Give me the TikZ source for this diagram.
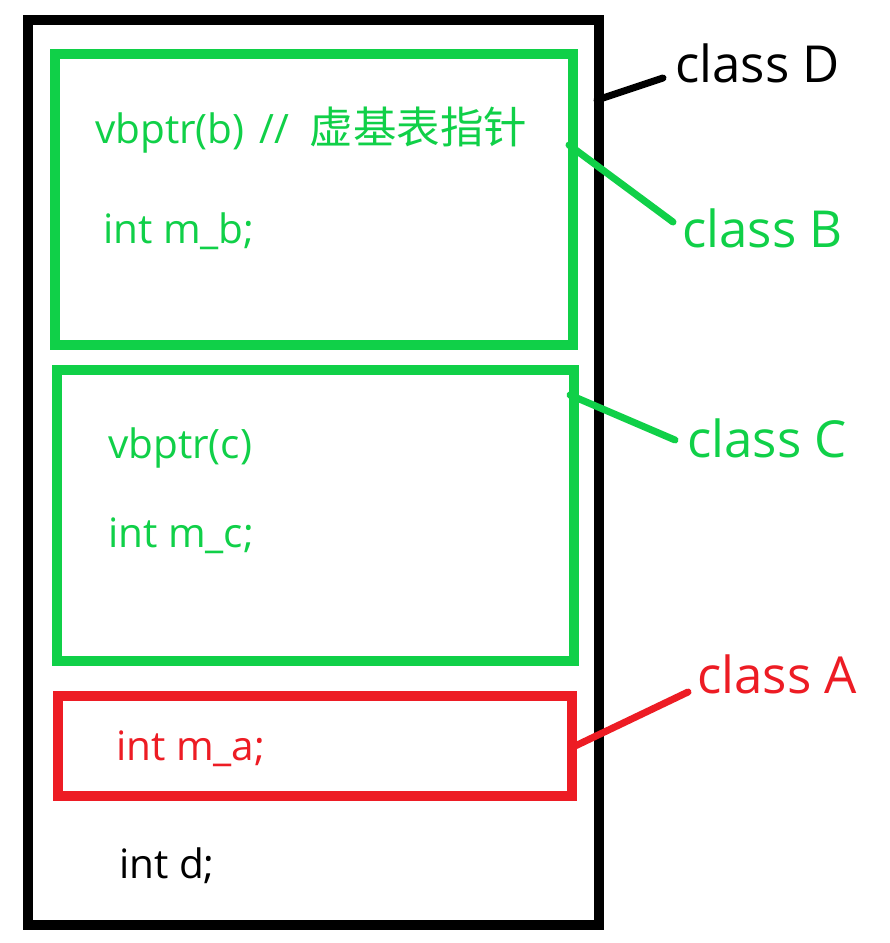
\documentclass[tikz,border=0pt]{standalone}
\usepackage{fontspec}
\setmainfont{Open Sans}
\newfontfamily\cjk{Noto Sans CJK SC}
\definecolor{mygreen}{RGB}{16,208,72}
\definecolor{myred}{RGB}{237,28,36}
\begin{document}
\begin{tikzpicture}[x=1pt,y=-1pt,
  box/.style={draw, line width=10pt, inner sep=0pt, outer sep=0pt, anchor=north west},
  conn/.style={line width=7pt, line cap=round},
  lab/.style={font=\fontsize{51}{56}\selectfont, anchor=base west, inner sep=0pt},
  code/.style={font=\fontsize{40.5}{44}\selectfont, anchor=base west, inner sep=0pt}]
\useasboundingbox (0,0) rectangle (890,943);
\fill[white] (0,0) rectangle (890,943);
% boxes
\node[box, minimum width=571pt, minimum height=905pt] (D) at (28,20) {};
\node[box, draw=mygreen, minimum width=517.5pt, minimum height=291pt] (B) at (55,54) {};
\node[box, draw=mygreen, minimum width=517pt, minimum height=291pt] (C) at (57,370) {};
\node[box, draw=myred, minimum width=514pt, minimum height=100pt] (A) at (58,696) {};
% texts
\node[code, text=mygreen] (tb1) at (95,143) {vbptr(b) \hspace{4pt}//\hspace{10pt} {\cjk\fontsize{43.5}{46}\selectfont 虚基表指针}};
\node[code, text=mygreen] (tb2) at (103,243) {int m\_b;};
\node[code, text=mygreen] (tc1) at (108,458) {vbptr(c)};
\node[code, text=mygreen] (tc2) at (108,547) {int m\_c;};
\node[code, text=myred] (ta) at (116,760) {int m\_a;};
\node[code] (td) at (119,878) {int d;};
% labels
\node[lab] (lD) at (675,82) {class D};
\node[lab, text=mygreen] (lB) at (682,247) {class B};
\node[lab, text=mygreen] (lC) at (687,457) {class C};
\node[lab, text=myred] (lA) at (697,693) {class A};
% connectors
\coordinate (pD) at (597,100);
\coordinate (eD) at (663,78);
\coordinate (pB) at (569,145);
\coordinate (eB) at (673,222);
\coordinate (pC) at (570,395);
\coordinate (eC) at (675,440);
\coordinate (pA) at (573,747);
\coordinate (eA) at (688,692);
\draw[conn] (pD) -- (eD);
\draw[conn, mygreen] (pB) -- (eB);
\draw[conn, mygreen] (pC) -- (eC);
\draw[conn, myred] (pA) -- (eA);
\end{tikzpicture}
\end{document}
